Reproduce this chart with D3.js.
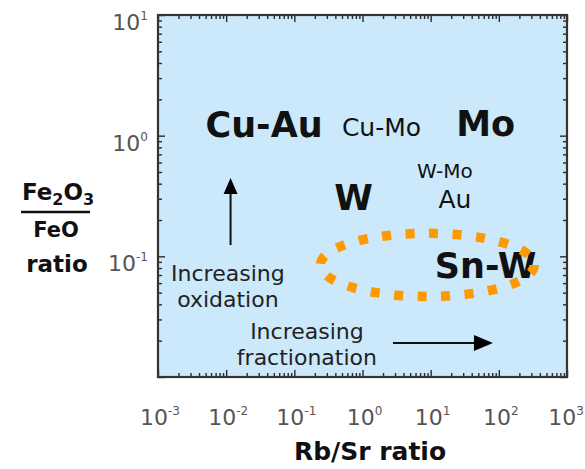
<!DOCTYPE html>
<html><head><meta charset="utf-8">
<script src="https://cdn.jsdelivr.net/npm/d3@7"></script>
<style>
body{margin:0;background:#fff}
svg{display:block}
text{font-family:"DejaVu Sans",Verdana,sans-serif}
</style>
</head><body>
<svg id="c" width="585" height="469"></svg>
<script>
// ---- data ----
const xDomain = [1e-3, 1e3];
const yDomain = [1e-2, 1e1];
const xTickExps = [-3, -2, -1, 0, 1, 2, 3];
const yTickExps = [-1, 0, 1];
const depositNames = ["Cu-Au", "Cu-Mo", "Mo", "W-Mo", "Au", "W", "Sn-W"];
const depositRbSr  = [0.036, 1.9, 64, 16.2, 22.7, 0.74, 64];
const depositFeRatio = [0.975, 1.0, 1.0, 0.446, 0.252, 0.242, 0.066];
const snWRegionRbSr = [0.24, 330];
const snWRegionFe = [0.0465, 0.155];
const oxidationArrowRbSr = 0.0116;
const oxidationArrowFe = [0.124, 0.446];
const fractionArrowFe = 0.0191;
const fractionArrowRbSr = [2.8, 82];
const captionLines = [["Increasing", "oxidation"], ["Increasing", "fractionation"]];
const captionRbSr = [0.0106, 0.153];
const captionFe = [0.0625, 0.0207];

// ---- layout ----
const W = 585;
const L = 158, R = 567, T = 15, B = 377;
const svg = d3.select("#c");
const x = d3.scaleLog().domain(xDomain).range([L, R]);
const y = d3.scaleLog().domain(yDomain).range([B, T]);

svg.append("rect").attr("x", L).attr("y", T).attr("width", R - L).attr("height", B - T)
  .attr("fill", "#cce9fb");

function minorVals(dom) {
  const out = [];
  const e0 = Math.round(Math.log10(dom[0])), e1 = Math.round(Math.log10(dom[1]));
  for (let e = e0; e < e1; e++) for (let k = 2; k <= 9; k++) out.push(k * Math.pow(10, e));
  return out;
}
const xMajor = d3.range(-3, 4).map(e => Math.pow(10, e));
const yMajor = d3.range(-2, 2).map(e => Math.pow(10, e));
const xMinor = minorVals(xDomain), yMinor = minorVals(yDomain);

function addAxis(gen, tx, ty, vals, len) {
  const g = svg.append("g").attr("transform", `translate(${tx},${ty})`)
    .call(gen.tickValues(vals).tickSizeInner(-len).tickSizeOuter(0).tickFormat(""));
  g.select(".domain").remove();
  g.selectAll("line").attr("stroke", "#2a2a2a").attr("stroke-width", 1.4);
}
addAxis(d3.axisBottom(x), 0, B, xMajor, 7);
addAxis(d3.axisBottom(x), 0, B, xMinor, 4);
addAxis(d3.axisTop(x), 0, T, xMajor, 7);
addAxis(d3.axisTop(x), 0, T, xMinor, 4);
addAxis(d3.axisLeft(y), L, 0, yMajor, 7);
addAxis(d3.axisLeft(y), L, 0, yMinor, 4);
addAxis(d3.axisRight(y), R, 0, yMajor, 7);
addAxis(d3.axisRight(y), R, 0, yMinor, 4);

svg.append("rect").attr("x", L).attr("y", T).attr("width", R - L).attr("height", B - T)
  .attr("fill", "none").attr("stroke", "#333").attr("stroke-width", 2.2);

// tick labels
xTickExps.forEach(e => {
  const px = x(Math.pow(10, e)) + 2;
  const t = svg.append("text").attr("x", px).attr("y", 425)
    .attr("text-anchor", "middle").attr("fill", "#555").attr("font-size", 22);
  t.append("tspan").text("10");
  t.append("tspan").attr("dy", -10).attr("font-size", 12).text(String(e));
  // keep the last label inside the picture
  const bb = t.node().getBBox();
  if (bb.x + bb.width > W - 1) t.attr("x", px - (bb.x + bb.width - (W - 1)));
});
yTickExps.forEach(e => {
  const t = svg.append("text").attr("x", 148).attr("y", y(Math.pow(10, e)) + 15)
    .attr("text-anchor", "end").attr("fill", "#555").attr("font-size", 22);
  t.append("tspan").text("10");
  t.append("tspan").attr("dy", -10).attr("font-size", 12).text(String(e));
});

// Sn-W ellipse extents
const ex0 = x(snWRegionRbSr[0]), ex1 = x(snWRegionRbSr[1]);
const ey0 = y(snWRegionFe[1]), ey1 = y(snWRegionFe[0]);

// deposit labels
const depStyle = {
  "Cu-Au": {size: 35, weight: "bold"},
  "Cu-Mo": {size: 25, weight: "normal"},
  "Mo":    {size: 35, weight: "bold"},
  "W-Mo":  {size: 20, weight: "normal"},
  "Au":    {size: 25, weight: "normal"},
  "W":     {size: 35, weight: "bold"},
  "Sn-W":  {size: 35, weight: "bold"}
};
depositNames.forEach((n, i) => {
  svg.append("text").attr("x", x(depositRbSr[i])).attr("y", y(depositFeRatio[i]))
    .attr("text-anchor", "middle").attr("font-size", depStyle[n].size)
    .attr("font-weight", depStyle[n].weight).attr("fill", "#111").text(n);
});

svg.append("ellipse")
  .attr("cx", (ex0 + ex1) / 2).attr("cy", (ey0 + ey1) / 2)
  .attr("rx", (ex1 - ex0) / 2).attr("ry", (ey1 - ey0) / 2)
  .attr("fill", "none").attr("stroke", "#ff9900").attr("stroke-width", 9.5)
  .attr("stroke-dasharray", "9 14.5");

// captions
captionLines.forEach((lines, i) => {
  const t = svg.append("text").attr("x", x(captionRbSr[i])).attr("y", y(captionFe[i]))
    .attr("text-anchor", "middle").attr("font-size", 22).attr("fill", "#222");
  lines.forEach((s, j) => t.append("tspan").attr("x", x(captionRbSr[i])).attr("dy", j ? 26 : 0).text(s));
});

// arrows
const ax = x(oxidationArrowRbSr), ay0 = y(oxidationArrowFe[0]), ay1 = y(oxidationArrowFe[1]);
svg.append("line").attr("x1", ax).attr("x2", ax).attr("y1", ay0).attr("y2", ay1 + 12)
  .attr("stroke", "#111").attr("stroke-width", 2);
svg.append("path").attr("d", `M${ax},${ay1} L${ax - 7},${ay1 + 16} L${ax + 7},${ay1 + 16} Z`).attr("fill", "#000");

const hy = y(fractionArrowFe), hx0 = x(fractionArrowRbSr[0]), hx1 = x(fractionArrowRbSr[1]);
svg.append("line").attr("x1", hx0).attr("x2", hx1 - 15).attr("y1", hy).attr("y2", hy)
  .attr("stroke", "#111").attr("stroke-width", 2);
svg.append("path").attr("d", `M${hx1},${hy} L${hx1 - 19},${hy - 8} L${hx1 - 19},${hy + 8} Z`).attr("fill", "#000");

// axis titles
svg.append("text").attr("x", 370).attr("y", 460).attr("text-anchor", "middle")
  .attr("font-size", 25).attr("font-weight", "bold").attr("fill", "#111").text("Rb/Sr ratio");

const yt = svg.append("text").attr("x", 58).attr("y", 200).attr("text-anchor", "middle")
  .attr("font-size", 23).attr("font-weight", "bold").attr("fill", "#111");
yt.append("tspan").text("Fe");
yt.append("tspan").attr("font-size", 16).attr("dy", 5).text("2");
yt.append("tspan").attr("dy", -5).text("O");
yt.append("tspan").attr("font-size", 16).attr("dy", 5).text("3");
svg.append("line").attr("x1", 21).attr("x2", 90).attr("y1", 212).attr("y2", 212)
  .attr("stroke", "#111").attr("stroke-width", 2.5);
svg.append("text").attr("x", 56).attr("y", 237).attr("text-anchor", "middle")
  .attr("font-size", 21).attr("font-weight", "bold").attr("fill", "#111").text("FeO");
svg.append("text").attr("x", 57).attr("y", 272).attr("text-anchor", "middle")
  .attr("font-size", 23).attr("font-weight", "bold").attr("fill", "#111").text("ratio");
</script>
</body></html>
